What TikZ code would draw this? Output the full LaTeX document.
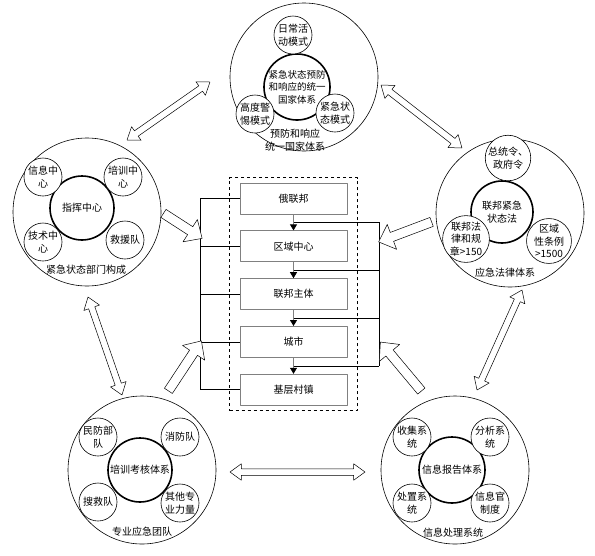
\documentclass[tikz,border=0pt]{standalone}
\usepackage{fontspec}
\setmainfont{Noto Sans CJK SC}
\usetikzlibrary{calc}
\usetikzlibrary{positioning}
\usetikzlibrary{fit}
\usetikzlibrary{shapes.arrows}
\usetikzlibrary{arrows.meta}

\newcommand{\twinarrow}[2]{%
  \path let \p1=($(#2)-(#1)$), \n1={veclen(\x1,\y1)}, \n2={atan2(\y1,\x1)} in
    node[twin, minimum height=\n1, rotate=\n2] at ($(#1)!.5!(#2)$) {};}
\newcommand{\pusharrow}[2]{%
  \path let \p1=($(#2)-(#1)$), \n1={veclen(\x1,\y1)}, \n2={atan2(\y1,\x1)} in
    node[push, minimum height=\n1, rotate=\n2] at ($(#1)!.5!(#2)$) {};}

\begin{document}
\begin{tikzpicture}[x=1pt, y=-1pt, line join=round, font=\fontsize{10}{12.5}\selectfont]
\tikzstyle{ring}=[circle, draw, line width=0.6pt, minimum size=148pt, inner sep=0pt]
\tikzstyle{hub}=[circle, draw, fill=white, line width=1.6pt, minimum size=64pt, inner sep=0pt, align=center]
\tikzstyle{sat}=[circle, draw, fill=white, line width=0.6pt, minimum size=38pt, inner sep=0pt, align=center]
\tikzstyle{caption}=[align=center, inner sep=1pt]
\tikzstyle{level}=[draw=gray, line width=0.8pt, minimum width=107pt, minimum height=31pt]
\tikzstyle{flow}=[gray, line width=0.8pt, -{Triangle[color=black, width=7pt, length=6pt]}]
\tikzstyle{twin}=[double arrow, draw, line width=0.5pt, inner xsep=0pt, inner ysep=3pt, double arrow head extend=5pt, double arrow tip angle=72]
\tikzstyle{push}=[single arrow, draw, fill=white, line width=0.5pt, inner xsep=0pt, inner ysep=4.5pt, single arrow head extend=8.5pt, single arrow tip angle=86]
\useasboundingbox (0,0) rectangle (595,555);

% top group
\node[ring] (Tring) at (304,77) {};
\node[hub, minimum size=66pt, font=\fontsize{9.5}{12.5}\selectfont] (Thub) at (297,87) {紧急状态预防\\和响应的统一\\国家体系};
\node[sat] (Tdaily) at (293,35) {日常活\\动模式};
\node[sat] (Talert) at (255,114) {高度警\\惕模式};
\node[sat] (Temerg) at (335,113) {紧急状\\态模式};
\node[caption] (Tcap) at (295,140) {预防和响应\\统一国家体系};

% left group
\node[ring] (Lring) at (87,212) {};
\node[hub] (Lhub) at (82,208) {指挥中心};
\node[sat] (Linfo) at (43,177) {信息中\\心};
\node[sat] (Ltrain) at (123,177) {培训中\\心};
\node[sat] (Ltech) at (43,242) {技术中\\心};
\node[sat] (Lrescue) at (125,240) {救援队};
\node[caption] (Lcap) at (86,270) {紧急状态部门构成};

% right group
\node[ring] (Rring) at (510,213) {};
\node[hub, minimum size=62pt] (Rhub) at (502,212) {联邦紧急\\状态法};
\node[sat] (Rorder) at (508,158) {总统令、\\政府令};
\node[sat] (Rlaw) at (466,239) {联邦法\\律和规\\章>150};
\node[sat] (Rregion) at (549,241) {区域\\性条例\\>1500};
\node[caption] (Rcap) at (505,273) {应急法律体系};

% bottom left group
\node[ring] (Aring) at (142,470) {};
\node[hub] (Ahub) at (140,470) {培训考核体系};
\node[sat] (Acivil) at (98,437) {民防部\\队};
\node[sat] (Afire) at (180,437) {消防队};
\node[sat] (Asearch) at (98,502) {搜救队};
\node[sat] (Aother) at (180,503) {其他专\\业力量};
\node[caption] (Acap) at (142,532) {专业应急团队};

% bottom right group
\node[ring] (Bring) at (455,470) {};
\node[hub, minimum size=66pt] (Bhub) at (452,470) {信息报告体系};
\node[sat] (Bcollect) at (412,437) {收集系\\统};
\node[sat] (Banalyse) at (490,437) {分析系\\统};
\node[sat] (Bhandle) at (412,503) {处置系\\统};
\node[sat] (Bofficer) at (490,503) {信息官\\制度};
\node[caption] (Bcap) at (453,533) {信息处理系统};

% levels
\node[level] (ru) at (293.5,198.5) {俄联邦};
\node[level, below=16pt of ru] (region) {区域中心};
\node[level, below=16pt of region] (subject) {联邦主体};
\node[level, below=16pt of subject] (city) {城市};
\node[level, below=16pt of city] (village) {基层村镇};
\node[draw, dashed, line width=0.9pt, fit=(ru)(village), inner xsep=10pt, inner ysep=5pt] (frame) {};

\draw[flow] (ru) -- (region);
\draw[flow] (region) -- (subject);
\draw[flow] (subject) -- (city);
\draw[flow] (city) -- (village);

\coordinate (busL) at (200,0);
\coordinate (busR) at (379,0);
\foreach \b in {ru,region,subject,city,village}
  \draw[line width=0.6pt] (\b.west) -- (\b.west -| busL);
\draw[line width=0.6pt] (ru.west -| busL) -- (village.west -| busL);

\coordinate (j1) at ($(ru.south)!.5!(region.north)$);
\coordinate (j2) at ($(region.south)!.5!(subject.north)$);
\coordinate (j3) at ($(subject.south)!.5!(city.north)$);
\coordinate (j4) at ($(city.south)!.5!(village.north)$);
\foreach \j in {j1,j2,j3,j4}
  \draw[line width=0.6pt] (\j) -- (\j -| busR);
\draw[line width=0.6pt] (j1 -| busR) -- (j4 -| busR);

% arrows between groups
\coordinate (tl1) at (127,140);
\coordinate (tl2) at (210,82);
\coordinate (tr1) at (381,85);
\coordinate (tr2) at (462,148);
\coordinate (lv1) at (88,297);
\coordinate (lv2) at (122,395);
\coordinate (rv1) at (522,290);
\coordinate (rv2) at (477,390);
\coordinate (bh1) at (230,472);
\coordinate (bh2) at (365,472);
\twinarrow{tl1}{tl2}
\twinarrow{tr1}{tr2}
\twinarrow{lv1}{lv2}
\twinarrow{rv1}{rv2}
\twinarrow{bh1}{bh2}

% arrows into the levels
\coordinate (pL) at (200,237);
\coordinate (pR) at (381,241);
\coordinate (pA) at (200,343);
\coordinate (pB) at (382,344);
\coordinate (qR) at (434,221);
\coordinate (qA) at (167,393);
\coordinate (qB) at (423,393);
\pusharrow{Lring.east}{pL}
\pusharrow{qR}{pR}
\pusharrow{qA}{pA}
\pusharrow{qB}{pB}
\end{tikzpicture}
\end{document}
